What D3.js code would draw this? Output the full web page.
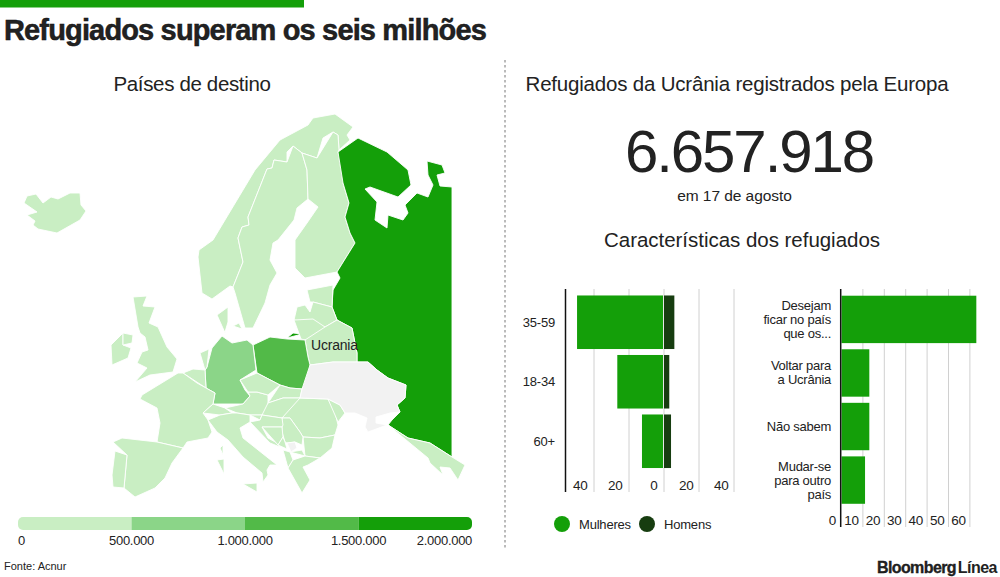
<!DOCTYPE html>
<html><head><meta charset="utf-8">
<script src="https://cdnjs.cloudflare.com/ajax/libs/d3/7.8.5/d3.min.js"></script>
<style>
html,body{margin:0;padding:0;background:#fff;overflow:hidden}
text{font-family:"Liberation Sans",Arial,sans-serif;fill:#222}
.grid line{stroke:#d0d0d0;stroke-width:1}
.grid path{display:none}
.map path{stroke:#fff;stroke-width:.9;stroke-linejoin:round}
</style></head><body><svg id="c" width="1000" height="577"></svg>
<script>
// ---- data ----
const ageGroups = ["35-59","18-34","60+"];
const women = [49.4,26.4,12.3];
const men = [6.2,3.3,4.3];
const intents = [["Desejam","ficar no país","que os..."],["Voltar para","a Ucrânia"],["Não sabem"],["Mudar-se","para outro","país"]];
const intentValues = [63,13,13,11];
const legendBreaks = [0,500000,1000000,1500000,2000000];
const legendLabels = ["0","500.000","1.000.000","1.500.000","2.000.000"];
const mapColours = ["#C9EEC3","#8BD588","#52BA48","#149F09"];
const total = "6.657.918";

// Refugees per country, with the outline of each in map-grid units
const countries = [
 ["Iceland",30000,[[24,203],[27,196],[36,194],[43,203],[51,197],[58,199],[70,193],[80,193],[81,205],[86,211],[80,220],[57,233],[38,229],[33,225],[35,221],[27,215],[37,212],[27,206]]],
 ["Norway",30000,[[308,125],[313,118],[335,114],[353,127],[347,135],[350,140],[339,150],[338,135],[333,132],[323,138],[317,158],[302,153],[293,146],[287,152],[287,162],[274,160],[272,168],[267,169],[248,217],[249,225],[242,227],[238,238],[243,262],[233,287],[230,286],[212,299],[202,293],[198,257],[199,250],[213,240],[228,215],[255,170],[280,140],[297,132]]],
 ["Sweden",50000,[[293,146],[302,153],[307,170],[308,199],[297,208],[294,220],[278,240],[273,243],[270,260],[277,273],[270,285],[265,303],[253,328],[245,328],[235,293],[233,287],[243,262],[238,238],[242,227],[249,225],[248,217],[267,169],[272,168],[274,160],[287,162],[287,152]]],
 ["Finland",40000,[[333,132],[338,135],[339,150],[338,152],[347,173],[343,183],[349,203],[345,217],[350,233],[355,243],[337,272],[305,278],[295,268],[295,240],[307,223],[318,207],[308,199],[307,170],[302,153],[317,158],[323,138]]],
 ["Russia",2000000,[[338,152],[358,138],[387,152],[408,170],[411,185],[398,197],[370,187],[365,189],[377,202],[375,220],[387,228],[388,215],[403,220],[408,213],[405,205],[417,193],[428,197],[433,185],[428,175],[427,161],[442,165],[445,173],[437,175],[440,186],[452,187],[452,457],[430,443],[408,438],[388,425],[392,420],[400,412],[397,405],[405,398],[406,385],[388,378],[377,370],[368,362],[357,362],[357,353],[352,328],[337,320],[332,307],[333,290],[340,278],[337,272],[355,243],[350,233],[345,217],[349,203],[343,183],[347,173]]],
 ["Kaliningrad",2000000,[[287,338],[293,333],[302,334],[301,339]]],
 ["Estonia",50000,[[307,290],[333,285],[332,307],[313,302],[310,302],[307,297]]],
 ["Latvia",40000,[[294,320],[297,307],[305,305],[310,312],[313,302],[332,307],[337,320],[325,327],[313,319]]],
 ["Lithuania",60000,[[294,320],[313,319],[325,327],[323,337],[305,340],[301,339],[302,334]]],
 ["Belarus",10000,[[325,327],[337,320],[352,328],[357,353],[357,362],[333,362],[310,365],[308,357],[305,340],[323,337]]],
 ["Poland",1300000,[[253,345],[270,337],[287,339],[305,340],[308,357],[310,365],[310,380],[302,389],[290,388],[280,385],[257,373],[256,370]]],
 ["Germany",950000,[[222,336],[232,343],[247,340],[253,345],[256,370],[240,380],[245,390],[250,396],[243,404],[213,404],[215,393],[206,388],[205,370],[207,367],[212,348],[220,347]]],
 ["Denmark",30000,[[217,315],[228,307],[228,322],[225,332],[226,335],[217,333]]],
 ["Zealand",30000,[[233,326],[239,323],[242,329],[237,334]]],
 ["Netherlands",70000,[[200,353],[209,349],[207,367],[205,370],[193,369]]],
 ["Belgium",50000,[[183,373],[193,369],[205,370],[206,388],[197,383]]],
 ["France",100000,[[178,373],[183,373],[197,383],[206,388],[215,393],[213,404],[203,413],[208,420],[212,432],[208,438],[187,442],[183,448],[157,442],[160,423],[157,408],[140,399],[142,395],[158,388]]],
 ["Spain",130000,[[113,442],[122,438],[157,442],[183,448],[172,463],[165,478],[155,488],[135,497],[124,488],[127,455],[115,451]]],
 ["Portugal",40000,[[115,451],[127,455],[124,488],[113,487],[112,475],[117,463]]],
 ["UK",100000,[[133,297],[147,296],[143,306],[155,307],[149,323],[158,327],[167,347],[177,359],[173,372],[150,375],[135,382],[147,368],[137,363],[142,352],[148,350],[145,337],[140,333],[138,327],[132,315]]],
 ["Ireland",40000,[[111,345],[123,333],[123,345],[131,348],[128,358],[112,365],[116,355]]],
 ["NorthernIreland",100000,[[123,333],[133,335],[132,343],[123,345],[121,339]]],
 ["Switzerland",60000,[[203,413],[213,404],[225,408],[232,413],[220,415],[208,420]]],
 ["Austria",80000,[[225,408],[243,404],[250,396],[248,392],[257,392],[268,395],[268,403],[267,410],[262,415],[250,415],[237,413],[232,413]]],
 ["Czechia",420000,[[240,380],[257,373],[280,385],[268,395],[257,392],[248,392],[245,390]]],
 ["Slovakia",80000,[[280,385],[290,388],[302,389],[300,398],[283,398],[268,403],[268,395]]],
 ["Hungary",30000,[[268,403],[283,398],[300,398],[292,412],[282,418],[262,415],[267,410]]],
 ["Romania",80000,[[300,398],[328,399],[335,412],[338,425],[335,435],[320,438],[303,437],[300,432],[290,418],[282,418],[292,412]]],
 ["Moldova",90000,[[328,399],[340,405],[345,413],[338,422],[335,412]]],
 ["Ukraine",null,[[310,365],[333,362],[357,362],[368,362],[377,370],[388,378],[406,385],[405,398],[397,405],[400,412],[390,413],[376,417],[376,423],[387,425],[368,432],[365,427],[367,418],[355,413],[345,413],[340,405],[328,399],[300,398],[302,389],[310,380]]],
 ["Bulgaria",130000,[[303,437],[320,438],[335,435],[332,448],[320,458],[305,456],[302,445]]],
 ["Serbia",10000,[[282,418],[290,418],[300,432],[303,437],[302,445],[295,442],[287,443],[285,442],[282,432],[283,425]]],
 ["Kosovo",null,[[287,443],[295,442],[297,448],[291,452],[287,449]]],
 ["Slovenia",8000,[[250,415],[262,415],[260,420],[250,422]]],
 ["Croatia",20000,[[250,422],[260,420],[262,415],[282,418],[283,425],[282,427],[262,427],[268,438],[277,443],[280,447],[270,443],[256,432]]],
 ["Bosnia",5000,[[262,427],[282,427],[283,437],[278,445],[268,438]]],
 ["Montenegro",5000,[[278,445],[283,437],[285,442],[287,449],[283,450]]],
 ["NMacedonia",5000,[[290,452],[302,450],[305,456],[293,460]]],
 ["Albania",5000,[[283,450],[290,452],[293,460],[288,468],[283,458]]],
 ["Greece",50000,[[288,468],[293,460],[305,456],[320,458],[308,465],[303,467],[310,480],[302,493],[292,477]]],
 ["Italy",150000,[[208,420],[220,415],[232,413],[237,413],[250,415],[250,422],[240,428],[243,438],[277,465],[270,465],[267,470],[268,475],[263,482],[262,473],[243,457],[228,440],[217,432],[212,432]]],
 ["Sicily",150000,[[243,484],[257,483],[257,492],[247,489]]],
 ["Sardinia",150000,[[217,460],[224,459],[224,474],[219,475]]],
 ["Corsica",100000,[[220,448],[223,445],[223,455],[221,457]]],
 ["Crete",50000,[[308,502],[320,504],[314,505]]],
 ["Cyprus",10000,[[360,505],[368,503],[365,507]]],
 ["Turkey",140000,[[388,425],[408,438],[430,443],[452,457],[465,465],[458,480],[450,468],[440,467],[443,475],[430,463],[428,458],[417,450]]]
];

// ---- page ----
const svg = d3.select("#c");
function label(t,x,y,size,anchor,extra){
  const s = svg.append("text").text(t).attr("x",x).attr("y",y).attr("font-size",size).attr("text-anchor",anchor||"start");
  if(extra) Object.entries(extra).forEach(([k,v])=>s.attr(k,v));
  return s;
}
svg.append("rect").attr("x",0).attr("y",0).attr("width",304).attr("height",7.5).attr("fill","#149F09");
label("Refugiados superam os seis milhões",4,39.5,29,"start",{"font-weight":700,"letter-spacing":"-0.85","fill":"#111","stroke":"#111","stroke-width":".5"});
label("Países de destino",192,91,20.5,"middle",{"letter-spacing":"-0.35"});
label("Refugiados da Ucrânia registrados pela Europa",737,91,20.5,"middle",{"letter-spacing":"-0.2"});
label(total,749,172,60,"middle",{"letter-spacing":"-2.1"});
label("em 17 de agosto",734.5,201,15.5,"middle",{"letter-spacing":"-0.05"});
label("Características dos refugiados",742,247,20.5,"middle",{"letter-spacing":"-0.03"});
svg.append("line").attr("x1",505).attr("x2",505).attr("y1",60).attr("y2",549).attr("stroke","#777").attr("stroke-dasharray","2.5 2.5");

// map
const colour = d3.scaleThreshold().domain(legendBreaks.slice(1,4)).range(mapColours);
const geo = {type:"FeatureCollection",features:countries.map(([name,value,ring])=>({type:"Feature",properties:{name,value},geometry:{type:"Polygon",coordinates:[ring]}}))};
const path = d3.geoPath(d3.geoIdentity());
svg.append("g").attr("class","map").selectAll("path").data(geo.features).join("path")
  .attr("d",path).attr("fill",d=>d.properties.value==null?"#F2F2F2":colour(d.properties.value));
label("Ucrania",311,350,14,"start",{"letter-spacing":"-0.2"});

// colour legend
const legendX = d3.scaleLinear().domain([0,2000000]).range([18,472]);
svg.append("defs").append("clipPath").attr("id","lg").append("rect").attr("x",18).attr("y",517).attr("width",454).attr("height",13).attr("rx",5);
svg.append("g").attr("clip-path","url(#lg)").selectAll("rect").data(mapColours).join("rect")
  .attr("x",(d,i)=>legendX(legendBreaks[i])).attr("width",(d,i)=>legendX(legendBreaks[i+1])-legendX(legendBreaks[i]))
  .attr("y",517).attr("height",13).attr("fill",d=>d);
legendLabels.forEach((t,i)=>{
  const a = i===0?"start":i===4?"end":"middle";
  label(t,legendX(legendBreaks[i]),545,13,a,{"letter-spacing":"-0.3","fill":"#333"});
});
label("Fonte: Acnur",4,570,11,"start",{"fill":"#333"});
label("Bloomberg",956,572.5,16,"end",{"font-weight":700,"letter-spacing":"-0.6","fill":"#111","stroke":"#111","stroke-width":".3"});
label("Línea",997,572.5,16,"end",{"font-weight":700,"letter-spacing":"-0.5","fill":"#3FAE38"});

// butterfly chart
const bx = d3.scaleLinear().domain([-40,40]).range([593.5,733.5]);
const by = d3.scaleBand().domain(ageGroups).range([292.5,471]).paddingInner(0.1).paddingOuter(0.05);
const bTicks = [-40,-20,0,20,40];
svg.append("g").attr("class","grid").attr("transform","translate(0,492)")
  .call(d3.axisBottom(bx).tickValues(bTicks).tickSize(-203).tickFormat(""));
bTicks.forEach(v=>label(Math.abs(v),bx(v)-(v===0?6:v<0?6:5),490,13.5,"end",{"fill":"#333","letter-spacing":"-0.2"}));
svg.append("g").selectAll("rect").data(ageGroups).join("rect")
  .attr("x",(d,i)=>bx(-women[i])).attr("width",(d,i)=>bx(0)-bx(-women[i])-.5)
  .attr("y",d=>by(d)).attr("height",by.bandwidth()).attr("fill","#149F09");
svg.append("g").selectAll("rect").data(ageGroups).join("rect")
  .attr("x",bx(0)+.5).attr("width",(d,i)=>bx(men[i])-bx(0)-.5)
  .attr("y",d=>by(d)).attr("height",by.bandwidth()).attr("fill","#173D10");
ageGroups.forEach(g=>label(g,555,by(g)+by.bandwidth()/2+4.5,13,"end",{"fill":"#333","letter-spacing":"-0.2"}));
svg.append("line").attr("x1",565.5).attr("x2",565.5).attr("y1",289).attr("y2",492).attr("stroke","#111").attr("stroke-width",1.5);
[["Mulheres",562,579,"#149F09"],["Homens",647,664,"#173D10"]].forEach(([t,cx,tx,c])=>{
  svg.append("circle").attr("cx",cx).attr("cy",524).attr("r",8).attr("fill",c);
  label(t,tx,528.5,13,"start",{"fill":"#333","letter-spacing":"-0.2"});
});

// intentions chart
const ix = d3.scaleLinear().domain([0,60]).range([841,969.4]);
const iy = d3.scaleBand().domain(d3.range(intents.length)).range([292.5,507]).paddingInner(0.115).paddingOuter(0.06);
const iTicks = [10,20,30,40,50,60];
svg.append("g").attr("class","grid").attr("transform","translate(0,527)")
  .call(d3.axisBottom(ix).tickValues(iTicks).tickSize(-238).tickFormat(""));
[0].concat(iTicks).forEach(v=>label(v,v===0?836:ix(v)-3.5,525,13.5,"end",{"fill":"#333","letter-spacing":"-0.2"}));
svg.append("g").selectAll("rect").data(intentValues).join("rect")
  .attr("x",ix(0)+.5).attr("width",d=>ix(d)-ix(0))
  .attr("y",(d,i)=>iy(i)).attr("height",iy.bandwidth()).attr("fill","#149F09");
intents.forEach((lines,i)=>{
  const mid = iy(i)+iy.bandwidth()/2;
  lines.forEach((t,j)=>label(t,831,mid+4.5+(j-(lines.length-1)/2)*14,13,"end",{"fill":"#333","letter-spacing":"-0.25"}));
});
svg.append("line").attr("x1",840.7).attr("x2",840.7).attr("y1",289).attr("y2",527).attr("stroke","#111").attr("stroke-width",1.5);
</script></body></html>
